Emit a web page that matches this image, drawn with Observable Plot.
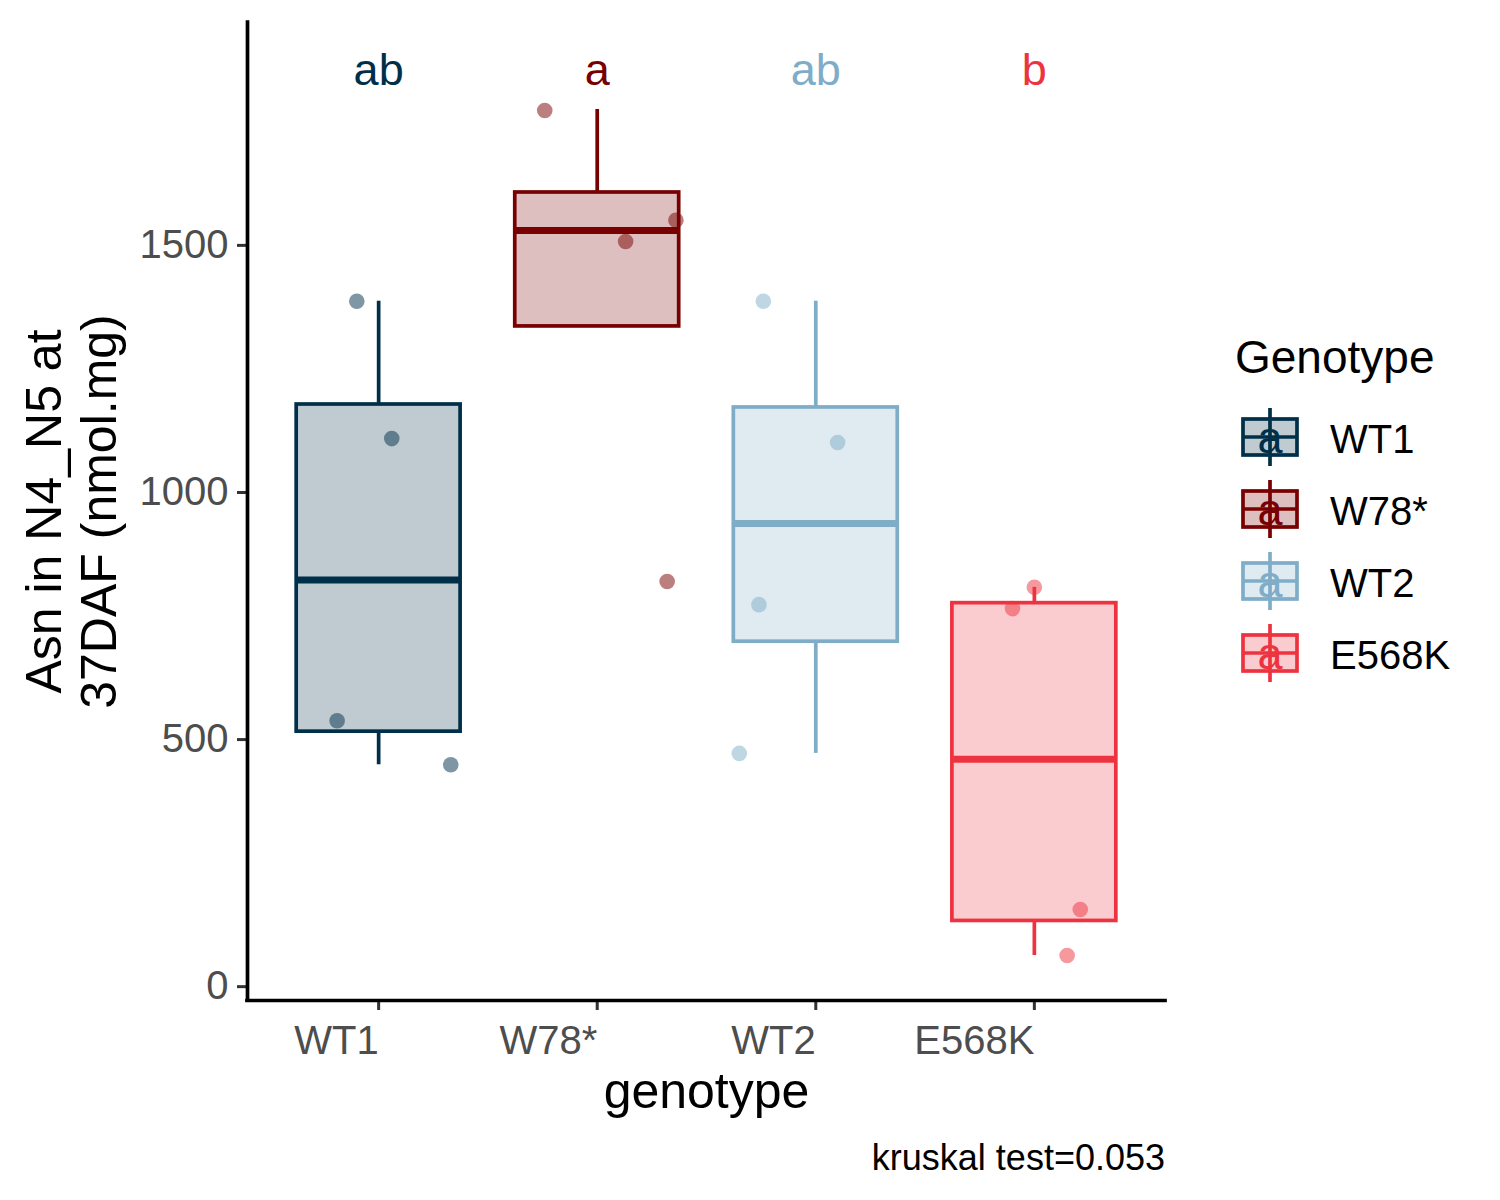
<!DOCTYPE html>
<html>
<head>
<meta charset="utf-8">
<script src="https://cdn.jsdelivr.net/npm/d3@7"></script>
<script src="https://cdn.jsdelivr.net/npm/@observablehq/plot@0.6"></script>
<style>
  html, body { margin: 0; padding: 0; background: white; }
  #wrap { position: relative; width: 1500px; height: 1200px; font-family: "Liberation Sans", Arial, sans-serif; }
  #overlay { position: absolute; left: 0; top: 0; pointer-events: none; }
</style>
</head>
<body>
<div id="wrap"></div>
<script>
// ---- data ----
const genotypes = ["WT1", "W78*", "WT2", "E568K"];
const colors = ["#003049", "#780000", "#7FADC8", "#EE3340"];
const q1 = [516, 1336, 698, 133];
const medians = [823, 1530, 937, 460];
const q3 = [1178, 1607, 1172, 776];
const whiskerLow = [449, 1336, 472, 63];
const whiskerHigh = [1387, 1775, 1387, 808];
const letters = ["ab", "a", "ab", "b"];
const letterY = 1854;

const pointGenotype = ["WT1","WT1","WT1","WT1","W78*","W78*","W78*","W78*","WT2","WT2","WT2","WT2","E568K","E568K","E568K","E568K"];
const pointValue = [1387, 1109, 538, 449, 1773, 1508, 1551, 820, 1387, 1101, 773, 472, 808, 765, 156, 63];
const pointJitter = [-0.10, 0.06, -0.19, 0.33, -0.24, 0.13, 0.36, 0.32, -0.24, 0.10, -0.26, -0.35, 0.00, -0.10, 0.21, 0.15];

const yTicks = [0, 500, 1000, 1500];
const xTitle = "genotype";
const yTitle = "Asn in N4_N5 at\n37DAF (nmol.mg)";
const legendTitle = "Genotype";
const caption = "kruskal test=0.053";

// ---- tables ----
const stats = genotypes.map((g, i) => ({
  genotype: g, pos: i + 1, q1: q1[i], median: medians[i], q3: q3[i],
  lo: whiskerLow[i], hi: whiskerHigh[i], letter: letters[i]
}));
const points = pointValue.map((v, i) => ({
  genotype: pointGenotype[i], value: v,
  x: genotypes.indexOf(pointGenotype[i]) + 1 + pointJitter[i]
}));
const halfW = 0.375;
const lw = 3.7;

const chart = Plot.plot({
  width: 1500, height: 1200,
  marginLeft: 247, marginRight: 335, marginTop: 22, marginBottom: 200,
  style: { fontFamily: "Liberation Sans, Arial, sans-serif", background: "white", overflow: "visible" },
  x: { type: "linear", domain: [0.4, 4.6] },
  y: { domain: [-28, 1951] },
  color: { domain: genotypes, range: colors },
  marks: [
    Plot.ruleX(stats, { x: "pos", y1: "q3", y2: "hi", stroke: "genotype", strokeWidth: lw }),
    Plot.ruleX(stats.filter(d => d.lo < d.q1), { x: "pos", y1: "lo", y2: "q1", stroke: "genotype", strokeWidth: lw }),
    Plot.rect(stats, { x1: d => d.pos - halfW, x2: d => d.pos + halfW, y1: "q1", y2: "q3",
      fill: "genotype", fillOpacity: 0.25, stroke: "genotype", strokeWidth: lw }),
    Plot.ruleY(stats, { y: "median", x1: d => d.pos - halfW, x2: d => d.pos + halfW, stroke: "genotype", strokeWidth: 7 }),
    Plot.dot(points, { x: "x", y: "value", r: 7.8, fill: "genotype", fillOpacity: 0.5, stroke: null }),
    Plot.text(stats, { x: "pos", y: () => letterY, text: "letter", fill: "genotype", fontSize: 45, lineAnchor: "middle" }),
    Plot.axisY({ ticks: yTicks, tickFormat: d => String(d), tickSize: 10, tickPadding: 9, fontSize: 40, fill: "#4d4d4d", stroke: "#333333", strokeWidth: 3, label: null }),
    Plot.axisX({ ticks: [1, 2, 3, 4], tickFormat: i => genotypes[i - 1], tickSize: 10, tickPadding: 15, fontSize: 40,
      textAnchor: "end", fill: "#4d4d4d", stroke: "#333333", strokeWidth: 3, label: null }),
    Plot.ruleX([0.4], { stroke: "black", strokeWidth: 3.7, strokeLinecap: "square" }),
    Plot.ruleY([-28], { stroke: "black", strokeWidth: 3.7, strokeLinecap: "square" }),
    Plot.text([xTitle], { frameAnchor: "bottom", dy: 72, lineAnchor: "top", fontSize: 50, fill: "black" }),
    Plot.text([yTitle], { frameAnchor: "left", dx: -177, rotate: -90, textAnchor: "middle", lineAnchor: "middle", lineHeight: 1.1, fontSize: 50, fill: "black" })
  ]
});
const wrap = document.getElementById("wrap");
wrap.appendChild(chart);

// ---- legend + caption overlay ----
const svg = d3.select(wrap).append("svg").attr("id", "overlay")
  .attr("width", 1500).attr("height", 1200)
  .style("font-family", "Liberation Sans, Arial, sans-serif");
svg.append("text").attr("x", 1235).attr("y", 373).attr("font-size", 46).attr("fill", "black").text(legendTitle);
genotypes.forEach((g, i) => {
  const cy = 437 + i * 72, c = colors[i];
  const k = svg.append("g");
  k.append("line").attr("x1", 1270).attr("x2", 1270).attr("y1", cy - 29).attr("y2", cy + 29).attr("stroke", c).attr("stroke-width", lw);
  k.append("rect").attr("x", 1243).attr("y", cy - 18).attr("width", 54).attr("height", 36)
    .attr("fill", c).attr("fill-opacity", 0.25).attr("stroke", "none");
  k.append("rect").attr("x", 1243).attr("y", cy - 18).attr("width", 54).attr("height", 36)
    .attr("fill", "none").attr("stroke", c).attr("stroke-width", lw);
  k.append("line").attr("x1", 1243).attr("x2", 1297).attr("y1", cy).attr("y2", cy).attr("stroke", c).attr("stroke-width", lw);
  k.append("text").attr("x", 1270).attr("y", cy + 16).attr("text-anchor", "middle").attr("font-size", 45).attr("fill", c).text("a");
  svg.append("text").attr("x", 1330).attr("y", cy + 16).attr("font-size", 40).attr("fill", "black").text(g);
});
svg.append("text").attr("x", 1165).attr("y", 1170).attr("text-anchor", "end").attr("font-size", 36).attr("fill", "black").text(caption);
</script>
</body>
</html>
